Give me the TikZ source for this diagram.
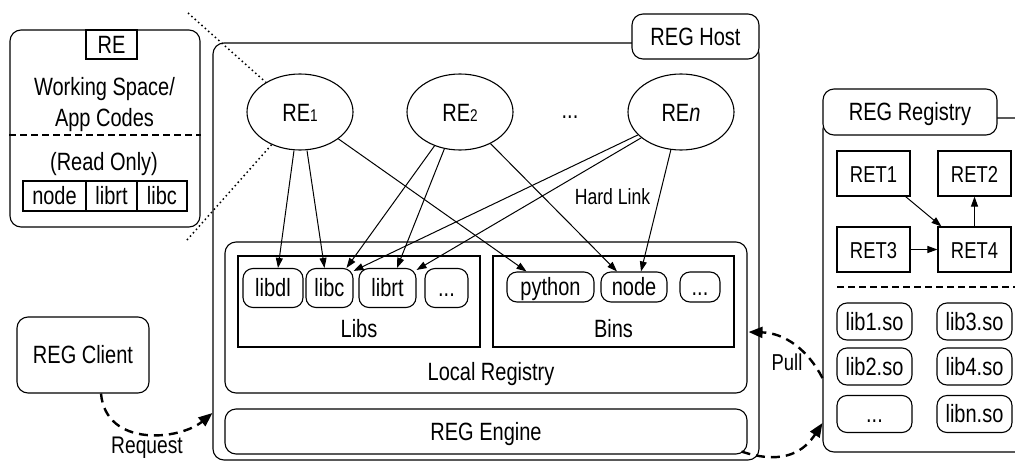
\documentclass[tikz,border=0pt]{standalone}
\usepackage{fontspec}
\setmainfont{Liberation Sans}[FakeStretch=0.8]
\usetikzlibrary{arrows.meta,shapes.geometric}
\begin{document}
\begin{tikzpicture}[x=1pt,y=-1pt,
  font=\fontsize{25}{30}\selectfont,
  rbox/.style={draw, line width=1.1pt, rounded corners=11pt, inner sep=0pt},
  sbox/.style={draw, line width=1.1pt, inner sep=0pt},
  lbl/.style={inner sep=0pt, anchor=base},
  boxtxt/.style={text height=17pt, text depth=0pt},
  ell/.style={draw, ellipse, line width=1.1pt, minimum width=106pt, minimum height=76pt, inner sep=0pt, text height=19pt, text depth=0pt},
  libn/.style={rbox, rounded corners=10pt, minimum height=39pt, boxtxt},
  binn/.style={rbox, rounded corners=10pt, minimum height=30pt, boxtxt},
  sonode/.style={rbox, rounded corners=10pt, minimum width=75pt, minimum height=37pt, boxtxt},
  retn/.style={sbox, minimum width=73pt, minimum height=45pt, boxtxt, font=\fontsize{23}{27}\selectfont},
  cell/.style={sbox, minimum height=30pt, boxtxt},
  link/.style={line width=1pt, -{Triangle[length=10pt,width=7pt]}},
  flow/.style={line width=2.4pt, dash pattern=on 9pt off 6pt, -{Triangle[length=14pt,width=11pt]}},
  dots/.style={line width=1.5pt, dash pattern=on 1.5pt off 3pt}
]
\useasboundingbox (0,0) rectangle (1015,461);

% ---------- left RE detail box ----------
\node[rbox, minimum width=190pt, minimum height=197pt] (rebox) at (105,128.5) {};
\node[sbox, minimum width=51pt, minimum height=29pt, boxtxt] (retag) at (111.5,44.5) {RE};
\node[lbl] (ws1) at (104.5,95.7) {Working Space/};
\node[lbl] (ws2) at (104.5,126.7) {App Codes};
\draw[line width=1.1pt, dash pattern=on 7pt off 4pt] (rebox.west |- 0,135) -- (rebox.east |- 0,135);
\node[lbl] (ro) at (104,170) {(Read Only)};
\node[cell, minimum width=63pt] (tnode) at (54.5,196) {node};
\node[cell, minimum width=51pt] (tlibrt) at (111.5,196) {librt};
\node[cell, minimum width=50pt] (tlibc) at (162,196) {libc};

% ---------- REG Host ----------
\node[rbox, minimum width=546pt, minimum height=417pt] (host) at (486,251.5) {};
\node[rbox, fill=white, minimum width=127pt, minimum height=45pt, boxtxt] (hosttag) at (695.5,36.5) {REG Host};

\node[ell] (re1) at (300,112) {RE{\fontsize{17}{17}\selectfont 1}};
\node[ell] (re2) at (460,112) {RE{\fontsize{17}{17}\selectfont 2}};
\node[lbl] (redots) at (570,118) {...};
\node[ell] (ren) at (681,112) {RE{\itshape n}};

\node[rbox, minimum width=522pt, minimum height=151pt] (localreg) at (486,317.5) {};
\node[lbl] (localregtxt) at (491,380) {Local Registry};
\node[sbox, minimum width=242pt, minimum height=91pt] (libs) at (359,301.5) {};
\node[lbl] (libstxt) at (359,337) {Libs};
\node[sbox, minimum width=241pt, minimum height=91pt] (bins) at (613.5,301.5) {};
\node[lbl] (binstxt) at (613.5,337) {Bins};

\node[libn, minimum width=60pt] (libdl) at (273,288) {libdl};
\node[libn, minimum width=47pt] (libc) at (329.5,288) {libc};
\node[libn, minimum width=57pt] (librt) at (387.5,288) {librt};
\node[libn, minimum width=43pt] (libdots) at (446.5,288) {...};
\node[binn, minimum width=87pt] (python) at (550.5,287) {python};
\node[binn, minimum width=66pt] (bnode) at (634,287) {node};
\node[binn, minimum width=40pt] (bdots) at (700,287) {...};

\node[rbox, minimum width=522pt, minimum height=45pt, boxtxt] (engine) at (486,431.5) {REG Engine};

% hard links
\draw[link] ([xshift=-6pt]re1.south) -- ([xshift=5pt]libdl.north);
\draw[link] ([xshift=7pt]re1.south) -- ([xshift=-5pt]libc.north);
\draw[link] (re1.325) -- ([xshift=-24pt]python.north);
\draw[link] (re2.233) -- ([xshift=17pt]libc.north);
\draw[link] (re2.247) -- ([xshift=9.5pt]librt.north);
\draw[link] (re2.314) -- ([xshift=-17pt]bnode.north);
\draw[link] (ren.208) -- ([yshift=-3pt]libc.north east);
\draw[link] (ren.213) -- ([yshift=-2pt]librt.north east);
\draw[link] (ren.255) -- ([xshift=7pt]bnode.north);
\node[lbl, font=\fontsize{22}{26}\selectfont] (hardlink) at (612.5,204) {Hard Link};

% magnifier dotted lines
\coordinate (dotA) at (188,13);
\coordinate (dotB) at (187,240);
\draw[dots] (dotA) -- (re1.139);
\draw[dots] (dotB) -- (re1.229);

% ---------- REG Registry ----------
\node[rbox, minimum width=230pt, minimum height=334pt] (registry) at (938,285) {};
\node[rbox, fill=white, minimum width=174pt, minimum height=46pt, boxtxt] (regtag) at (910,112) {REG Registry};
\node[retn] (ret1) at (873.5,173.5) {RET1};
\node[retn] (ret2) at (974.5,173.5) {RET2};
\node[retn] (ret3) at (873.5,249.5) {RET3};
\node[retn] (ret4) at (974.5,249.5) {RET4};
\draw[link] ([xshift=-5pt]ret1.south east) -- ([xshift=4pt]ret4.north west);
\draw[link] (ret4.north) -- (ret2.south);
\draw[link] (ret3.east) -- (ret4.west);
\draw[line width=1.1pt, dash pattern=on 7pt off 4pt] (837,287) -- (1015,287);
\node[sonode] (lib1) at (874.5,321.5) {lib1.so};
\node[sonode] (lib3) at (974.5,321.5) {lib3.so};
\node[sonode] (lib2) at (874.5,366.5) {lib2.so};
\node[sonode] (lib4) at (974.5,366.5) {lib4.so};
\node[sonode] (libx) at (874.5,414) {...};
\node[sonode] (libn) at (974.5,414) {libn.so};

% ---------- REG Client ----------
\node[rbox, minimum width=132pt, minimum height=76pt, boxtxt] (client) at (83,355) {REG Client};

% ---------- flows ----------
\draw[flow] ([xshift=18pt]client.south) .. controls (106,448) and (180,440) .. ([yshift=-161.5pt]host.west);
\node[lbl, font=\fontsize{24}{28}\selectfont] (reqtxt) at (147,453) {Request};
\draw[flow] ([yshift=-93pt]registry.west) .. controls (808,350) and (785,333) .. ([yshift=-14.5pt,xshift=1pt]localreg.east);
\node[lbl, font=\fontsize{23}{27}\selectfont] (pulltxt) at (787,370) {Pull};
\draw[flow] ([xshift=-6pt,yshift=3pt]engine.south east) .. controls (785,466) and (805,450) .. ([yshift=-138pt]registry.west);
\end{tikzpicture}
\end{document}
